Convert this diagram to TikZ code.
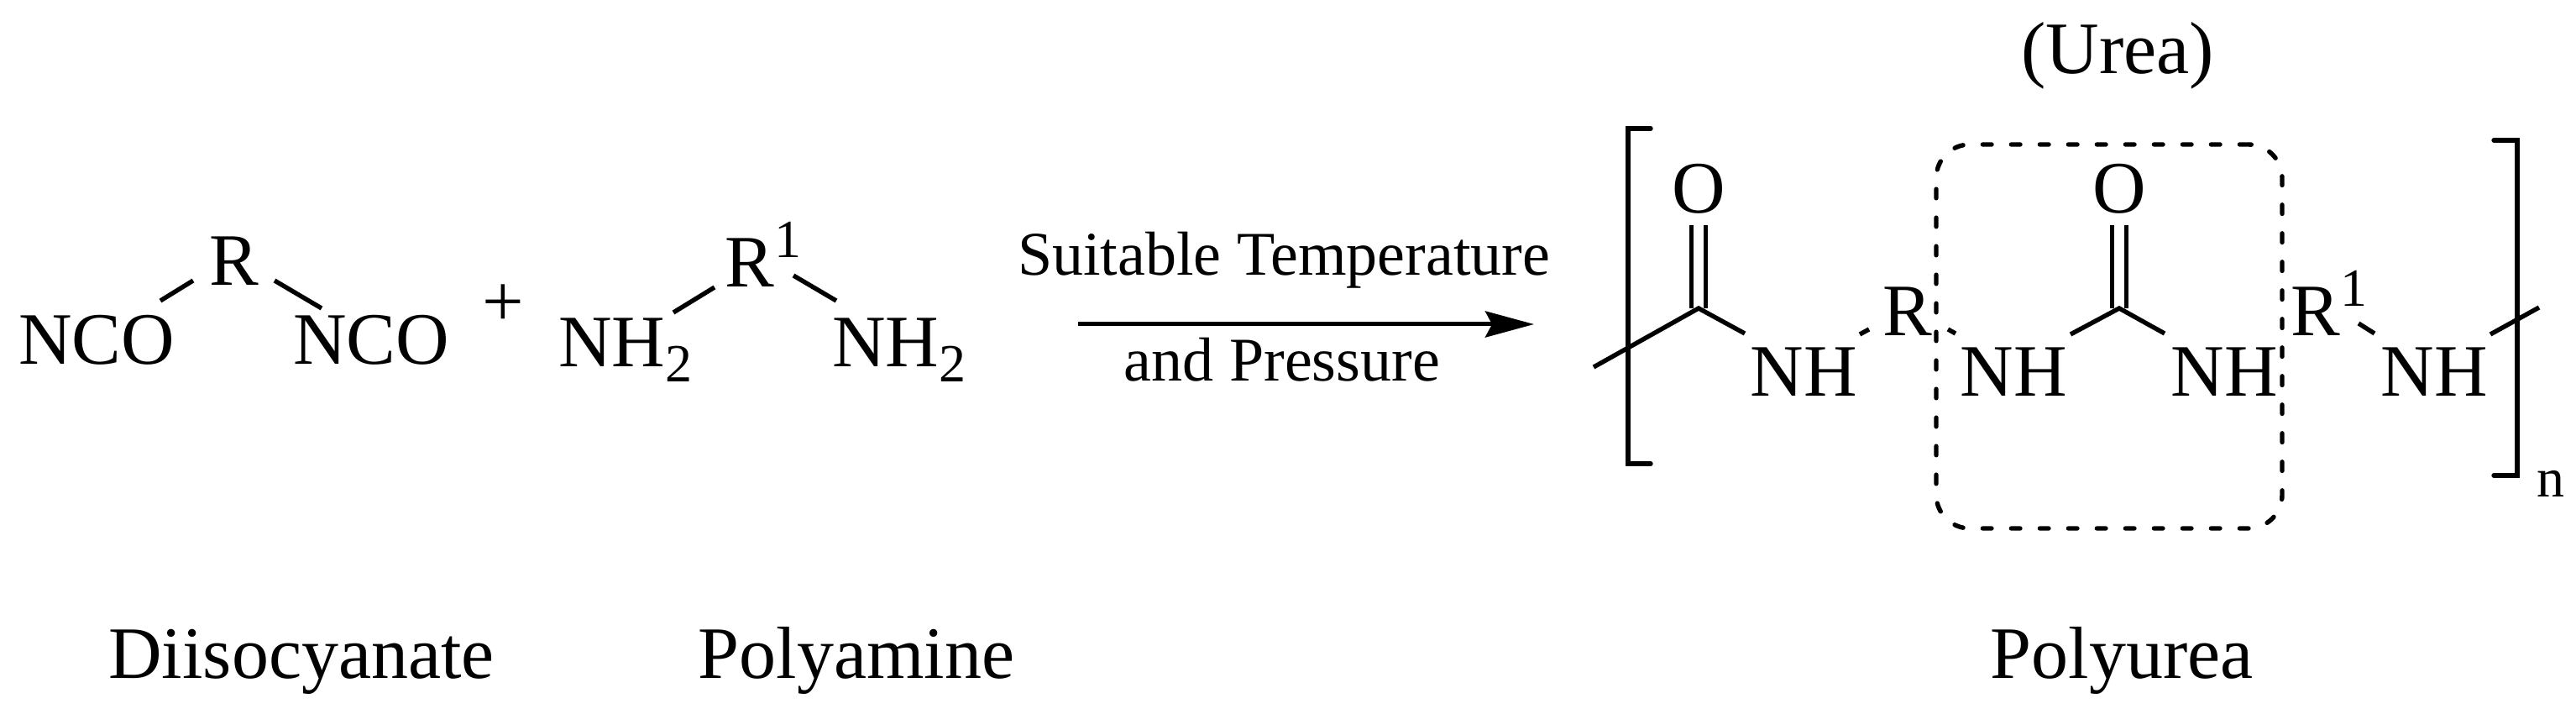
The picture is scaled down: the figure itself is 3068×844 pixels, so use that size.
\documentclass[tikz,border=0pt]{standalone}
\usepackage{fontspec}
\setmainfont{Liberation Serif}
\usetikzlibrary{arrows.meta}
\newcommand{\supone}{\raisebox{17.5pt}{\fontsize{32}{32}\selectfont 1}}
\newcommand{\subtwo}{\raisebox{-9pt}{\fontsize{32}{32}\selectfont 2}}
\begin{document}
\begin{tikzpicture}[x=.5pt, y=-.5pt,
  every path/.style={draw=black, line width=2.7pt},
  atom/.style={font={\fontsize{44}{44}\selectfont}, anchor=base, inner sep=.5pt, outer sep=0pt},
  caption/.style={font={\fontsize{44}{44}\selectfont}, anchor=base, inner sep=0pt},
  cond/.style={font={\fontsize{37}{37}\selectfont}, anchor=base, inner sep=0pt},
  bracket/.style={line cap=round, line join=miter},
  ureabox/.style={line width=2.7pt, dash pattern=on 5.3pt off 11.7pt, line cap=round, rectangle, rounded corners=20pt, minimum width=206pt, minimum height=228.5pt, inner sep=0pt}]
\useasboundingbox[draw=none] (0,0) rectangle (3068,844);
% diisocyanate
\node[atom] (r) at (279,340) {R};
\node[atom] (nco1) at (115,434) {NCO};
\node[atom] (nco2) at (442,434) {NCO};
\draw ([shift={(-49,-6)}]r.base) -- ([shift={(76,-76)}]nco1.base);
\draw ([shift={(48,-6)}]r.base) -- ([shift={(-59,-67)}]nco2.base);
\node[atom] (plus) at (599,389) {+};
% polyamine
\node[atom] (r1) at (909,342) {R\supone};
\node[atom] (nh2a) at (745,437) {NH\subtwo};
\node[atom] (nh2b) at (1071,437) {NH\subtwo};
\draw ([shift={(-58,0)}]r1.base) -- ([shift={(57,-65)}]nh2a.base);
\draw ([shift={(36,-14)}]r1.base) -- ([shift={(-75,-79)}]nh2b.base);
% arrow
\node[cond] (cond1) at (1529,328) {Suitable Temperature};
\node[cond] (cond2) at (1527,453) {and Pressure};
\coordinate (arrowa) at (1284,386);
\coordinate (arrowb) at (1827,386);
\draw[line width=2.5pt, -{Stealth[length=29pt,width=15.5pt,inset=4pt]}] (arrowa) -- (arrowb);
% polyurea
\node[ureabox, draw] (box) at (2512,400.5) {};
\coordinate (c1) at (2023,367);
\coordinate (c2) at (2524,367);
\node[atom] (o1) at (2023,254) {O};
\node[atom] (o2) at (2524,254) {O};
\node[atom] (nh1) at (2148,472) {NH};
\node[atom] (nh2) at (2398,472) {NH};
\node[atom] (nh3) at (2649,472) {NH};
\node[atom] (nh4) at (2899,472) {NH};
\node[atom] (r2) at (2272,400) {R};
\node[atom] (r3) at (2774,400) {R\supone};
\coordinate (enda) at (1898,437);
\coordinate (endb) at (3024,366);
\draw (enda) -- (c1) -- ([shift={(-70,-75)}]nh1.base);
\draw ([shift={(68,-74)}]nh2.base) -- (c2) -- ([shift={(-71,-75)}]nh3.base);
\draw ([shift={(67,-74)}]nh1.base) -- ([shift={(-46,-8)}]r2.base);
\draw ([shift={(48,-8)}]r2.base) -- ([shift={(-69,-75)}]nh2.base);
\draw ([shift={(35,-15)}]r3.base) -- ([shift={(-71,-75)}]nh4.base);
\draw ([shift={(67,-74)}]nh4.base) -- (endb);
\draw ([xshift=-4.25pt]c1) -- ([shift={(-8.5,14)}]o1.base);
\draw ([xshift=4.25pt]c1) -- ([shift={(8.5,14)}]o1.base);
\draw ([xshift=-4.25pt]c2) -- ([shift={(-8.5,14)}]o2.base);
\draw ([xshift=4.25pt]c2) -- ([shift={(8.5,14)}]o2.base);
\coordinate (bla) at (1966,153);
\coordinate (blb) at (1966,552);
\coordinate (bra) at (2970,167);
\coordinate (brb) at (2970,566);
\draw[bracket] (bla) -- ++(-27,0) |- (blb);
\draw[bracket] (bra) -- ++(28,0) |- (brb);
\node[atom, font={\fontsize{33}{33}\selectfont}] (n) at (3038,591) {n};
\node[caption] (urea) at (2522,88) {(Urea)};
% names
\node[caption] (diiso) at (359,807) {Diisocyanate};
\node[caption] (polyam) at (1020,807) {Polyamine};
\node[caption] (polyur) at (2527,807) {Polyurea};
\end{tikzpicture}
\end{document}
